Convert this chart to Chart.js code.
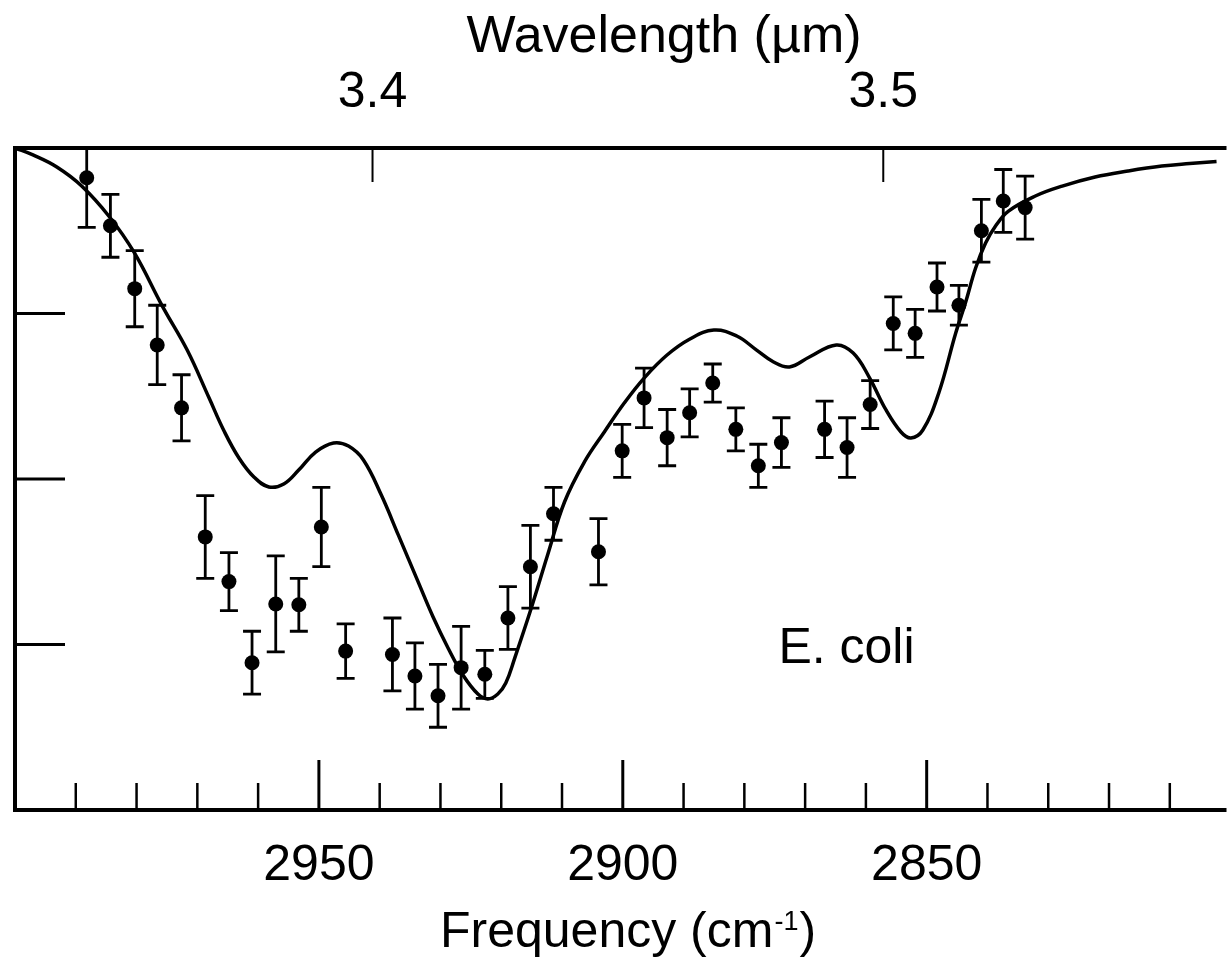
<!DOCTYPE html>
<html>
<head>
<meta charset="utf-8">
<script src="https://cdn.jsdelivr.net/npm/chart.js@4"></script>
<style>
html,body{margin:0;padding:0;background:#fff;overflow:hidden}
canvas{display:block}
</style>
</head>
<body>
<canvas id="c" width="1232" height="963" style="width:1232px;height:963px"></canvas>
<script>
// ---------- data ----------
// measured points, E. coli
const freqData = [2988.2, 2984.3, 2980.3, 2976.6, 2972.6, 2968.7, 2964.8, 2961.0, 2957.1, 2953.3,
  2949.6, 2945.6, 2937.9, 2934.2, 2930.4, 2926.6, 2922.7, 2918.9, 2915.2, 2911.4,
  2904.0, 2900.1, 2896.5, 2892.7, 2889.0, 2885.2, 2881.4, 2877.7, 2873.9, 2866.8,
  2863.1, 2859.3, 2855.5, 2851.9, 2848.3, 2844.7, 2841.0, 2837.4, 2833.8];
const signalData = [3.82, 3.53, 3.15, 2.81, 2.43, 1.65, 1.38, 0.89, 1.245, 1.24,
  1.71, 0.96, 0.94, 0.81, 0.69, 0.86, 0.82, 1.16, 1.47, 1.79,
  1.56, 2.17, 2.49, 2.25, 2.40, 2.58, 2.30, 2.08, 2.22, 2.30,
  2.19, 2.45, 2.94, 2.88, 3.16, 3.05, 3.50, 3.68, 3.64];
const errData = [0.30, 0.19, 0.23, 0.24, 0.20, 0.25, 0.175, 0.19, 0.29, 0.16,
  0.24, 0.165, 0.22, 0.20, 0.19, 0.25, 0.145, 0.19, 0.25, 0.16,
  0.20, 0.16, 0.18, 0.17, 0.145, 0.115, 0.13, 0.13, 0.15, 0.17,
  0.18, 0.145, 0.16, 0.145, 0.145, 0.12, 0.19, 0.19, 0.19];

// fitted curve, sampled along the drawn line
const fitFreq = [3000.0, 2997.05, 2993.12, 2989.03, 2984.44, 2980.35, 2975.76, 2971.67, 2968.06, 2965.60,
  2963.15, 2960.69, 2958.23, 2955.78, 2953.32, 2950.54, 2947.59, 2945.13, 2942.67, 2939.73,
  2936.94, 2933.67, 2931.21, 2928.75, 2926.30, 2923.84, 2922.20, 2920.56, 2919.25, 2917.78,
  2915.16, 2912.37, 2909.59, 2906.31, 2903.04, 2899.76, 2896.49, 2892.72, 2888.95, 2885.02,
  2881.25, 2877.98, 2875.19, 2872.57, 2869.30, 2864.88, 2862.09, 2859.47, 2856.69, 2854.23,
  2852.59, 2850.63, 2848.01, 2845.22, 2843.58, 2841.95, 2840.31, 2838.67, 2836.54, 2832.12,
  2827.70, 2822.29, 2816.89, 2811.32, 2806.73, 2802.31];
const fitSignal = [4.000, 3.958, 3.885, 3.770, 3.583, 3.366, 3.045, 2.779, 2.489, 2.290,
  2.127, 2.012, 1.952, 1.970, 2.054, 2.163, 2.218, 2.199, 2.115, 1.903,
  1.662, 1.378, 1.166, 0.979, 0.816, 0.701, 0.671, 0.701, 0.767, 0.918,
  1.208, 1.541, 1.861, 2.103, 2.284, 2.459, 2.610, 2.749, 2.846, 2.900,
  2.864, 2.779, 2.707, 2.677, 2.737, 2.810, 2.761, 2.616, 2.417, 2.284,
  2.248, 2.296, 2.520, 2.882, 3.069, 3.275, 3.426, 3.529, 3.619, 3.710,
  3.770, 3.825, 3.861, 3.891, 3.906, 3.918];

// axes
const freqMin = 2801, freqMax = 3000;
const signalMin = 0, signalMax = 4;
const freqTicks = [2950, 2900, 2850];
const freqMinorTicks = [2990, 2980, 2970, 2960, 2940, 2930, 2920, 2910, 2890, 2880, 2870, 2860, 2840, 2830, 2820, 2810];
const wavelengthTicks = [3.4, 3.5];   // µm, top axis
const signalTicks = [1, 2, 3];
const topTitle = 'Wavelength (µm)';
const bottomTitle = ['Frequency (cm', '-1', ')'];
const annotText = 'E. coli';
const annotFreq = 2874.4, annotSignal = 0.888;

// ---------- styles / layout ----------
const FONT = '"Liberation Sans", Arial, Helvetica, sans-serif';
const TICK_FONT = {family: FONT, size: 50};

const decor = {
  id: 'decor',
  afterDatasetsDraw(chart) {
    const {ctx, chartArea: a, scales} = chart;
    const x = scales.x, y = scales.y;
    ctx.save();
    ctx.beginPath();
    ctx.rect(a.left, a.top, a.right - a.left, a.bottom - a.top);
    ctx.clip();
    ctx.strokeStyle = '#000';
    ctx.lineWidth = 2.8;
    ctx.lineCap = 'butt';
    freqData.forEach((f, i) => {
      const px = x.getPixelForValue(f);
      const yt = y.getPixelForValue(signalData[i] + errData[i]);
      const yb = y.getPixelForValue(signalData[i] - errData[i]);
      ctx.beginPath();
      ctx.moveTo(px, yt); ctx.lineTo(px, yb);
      ctx.moveTo(px - 9, yt); ctx.lineTo(px + 9, yt);
      ctx.moveTo(px - 9, yb); ctx.lineTo(px + 9, yb);
      ctx.stroke();
    });
    ctx.restore();
  },
  afterDraw(chart) {
    const {ctx, chartArea: a, scales} = chart;
    const x = scales.x, x2 = scales.x2, y = scales.y;
    ctx.save();
    ctx.strokeStyle = '#000';
    // inner ticks
    ctx.lineWidth = 2.5;
    freqMinorTicks.forEach(v => {
      const px = x.getPixelForValue(v);
      ctx.beginPath(); ctx.moveTo(px, a.bottom); ctx.lineTo(px, a.bottom - 27); ctx.stroke();
    });
    ctx.lineWidth = 3;
    freqTicks.forEach(v => {
      const px = x.getPixelForValue(v);
      ctx.beginPath(); ctx.moveTo(px, a.bottom); ctx.lineTo(px, a.bottom - 50); ctx.stroke();
    });
    ctx.lineWidth = 2;
    wavelengthTicks.forEach(w => {
      const px = x2.getPixelForValue(10000 / w);
      ctx.beginPath(); ctx.moveTo(px, a.top); ctx.lineTo(px, a.top + 34); ctx.stroke();
    });
    ctx.lineWidth = 3;
    signalTicks.forEach(v => {
      const py = y.getPixelForValue(v);
      ctx.beginPath(); ctx.moveTo(a.left, py); ctx.lineTo(a.left + 50, py); ctx.stroke();
    });
    // frame (left, top, bottom)
    ctx.lineWidth = 4;
    ctx.beginPath();
    ctx.moveTo(a.right + 2, a.top); ctx.lineTo(a.left, a.top);
    ctx.lineTo(a.left, a.bottom); ctx.lineTo(a.right + 2, a.bottom);
    ctx.stroke();
    // titles
    ctx.fillStyle = '#000';
    ctx.textBaseline = 'alphabetic';
    ctx.font = '52px ' + FONT;
    ctx.textAlign = 'center';
    ctx.fillText(topTitle, 664, 52);
    ctx.textAlign = 'left';
    ctx.font = '50px ' + FONT;
    let cx = 440;
    ctx.fillText(bottomTitle[0], cx, 947);
    cx += ctx.measureText(bottomTitle[0]).width + 1;
    ctx.font = '27px ' + FONT;
    ctx.fillText(bottomTitle[1], cx, 930);
    cx += ctx.measureText(bottomTitle[1]).width + 1;
    ctx.font = '50px ' + FONT;
    ctx.fillText(bottomTitle[2], cx, 947);
    // annotation
    ctx.font = '50px ' + FONT;
    ctx.fillText(annotText, x.getPixelForValue(annotFreq), y.getPixelForValue(annotSignal));
    ctx.restore();
  }
};

new Chart(document.getElementById('c'), {
  type: 'line',
  data: {
    datasets: [
      {
        label: 'E. coli',
        data: freqData.map((f, i) => ({x: f, y: signalData[i]})),
        showLine: false,
        pointRadius: 7.5,
        pointHoverRadius: 7.5,
        pointBackgroundColor: '#000',
        pointBorderColor: '#000',
        pointBorderWidth: 0,
        order: 0
      },
      {
        label: 'fit',
        data: fitFreq.map((f, i) => ({x: f, y: fitSignal[i]})),
        borderColor: '#000',
        borderWidth: 3.5,
        pointRadius: 0,
        fill: false,
        tension: 0.4,
        order: 1
      }
    ]
  },
  options: {
    responsive: false,
    devicePixelRatio: 1,
    animation: false,
    events: [],
    layout: {padding: {left: 15, right: 2, top: 0, bottom: 0}},
    plugins: {legend: {display: false}, tooltip: {enabled: false}},
    scales: {
      x: {
        type: 'linear', position: 'bottom', reverse: true,
        min: freqMin, max: freqMax,
        grid: {display: false, drawTicks: false},
        border: {display: false},
        afterBuildTicks: s => { s.ticks = freqTicks.map(v => ({value: v})); },
        afterFit: s => { s.height = 153; },
        ticks: {font: TICK_FONT, color: '#000', padding: 26, maxRotation: 0, autoSkip: false,
          callback: v => String(v)}
      },
      x2: {
        type: 'linear', position: 'top', reverse: true,
        min: freqMin, max: freqMax,
        grid: {display: false, drawTicks: false},
        border: {display: false},
        afterBuildTicks: s => { s.ticks = wavelengthTicks.map(w => ({value: 10000 / w})); },
        afterFit: s => { s.height = 148; },
        ticks: {font: TICK_FONT, color: '#000', padding: 25, maxRotation: 0, autoSkip: false,
          callback: v => (10000 / v).toFixed(1)}
      },
      y: {
        type: 'linear', display: false,
        min: signalMin, max: signalMax
      }
    }
  },
  plugins: [decor]
});
</script>
</body>
</html>
